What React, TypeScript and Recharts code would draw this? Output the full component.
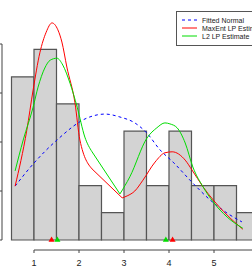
import React from 'react';
import {
    ComposedChart,
    Line,
    Scatter,
    XAxis,
    YAxis,
    ZAxis,
    ReferenceArea,
    ReferenceLine
} from 'recharts';

// histogram: bins of width 0.5, heights as density
const binStarts = [0.5, 1.0, 1.5, 2.0, 2.5, 3.0, 3.5, 4.0, 4.5, 5.0, 5.5];
const binDensity = [0.333, 0.389, 0.278, 0.111, 0.056, 0.222, 0.111, 0.222, 0.111, 0.111, 0.056];
const BIN_WIDTH = 0.5;

// fitted normal (dashed blue)
const normalX = [0.58, 0.98, 1.51, 2.18, 2.58, 2.91, 3.24, 3.51, 3.8, 4.09, 4.51, 4.91, 5.29, 5.62];
const normalY = [0.110, 0.155, 0.204, 0.249, 0.257, 0.251, 0.239, 0.218, 0.184, 0.159, 0.118, 0.082, 0.055, 0.037];

// MaxEnt LP estimate (red): left hump, straight drop, right hump
const maxentLeftX = [0.58, 0.84, 0.98, 1.13, 1.27, 1.4, 1.53, 1.62, 1.73, 1.91, 2.02, 2.29];
const maxentLeftY = [0.110, 0.224, 0.306, 0.382, 0.424, 0.443, 0.429, 0.404, 0.353, 0.280, 0.204, 0.145];
const maxentMidX = [2.29, 2.96];
const maxentMidY = [0.145, 0.086];
const maxentRightX = [2.96, 3.07, 3.24, 3.42, 3.69, 3.91, 4.07, 4.36, 4.51, 4.76, 4.98, 5.29, 5.64];
const maxentRightY = [0.086, 0.090, 0.100, 0.122, 0.159, 0.178, 0.180, 0.163, 0.143, 0.108, 0.082, 0.051, 0.022];

// L2 LP estimate (green): left hump, straight drop, right hump
const l2LeftX = [0.58, 0.76, 0.98, 1.09, 1.24, 1.36, 1.51, 1.64, 1.8, 1.96, 2.13, 2.29];
const l2LeftY = [0.141, 0.204, 0.271, 0.312, 0.351, 0.367, 0.371, 0.357, 0.320, 0.271, 0.210, 0.180];
const l2MidX = [2.29, 2.91];
const l2MidY = [0.180, 0.094];
const l2RightX = [2.91, 3.13, 3.51, 3.73, 3.91, 4.02, 4.18, 4.36, 4.53, 4.76, 4.98, 5.29, 5.64];
const l2RightY = [0.094, 0.129, 0.208, 0.229, 0.239, 0.237, 0.229, 0.198, 0.149, 0.108, 0.078, 0.047, 0.024];

// mode markers on the baseline
const maxentModes = [1.39, 4.08];
const l2Modes = [1.52, 3.93];

const xTicks = [1, 2, 3, 4, 5];
const yTicks = [0, 0.1, 0.2, 0.3, 0.4];
const legendNames = ['Fitted Normal', 'MaxEnt LP Estimate', 'L2 LP Estimate'];

// visible window (the figure is cropped on the left and right)
const X_MIN = 0.2889;
const X_MAX = 5.8444;
const Y_MIN = -0.0204;
const Y_MAX = 0.4898;

const FONT = '"Liberation Sans", Arial, sans-serif';
const RED = '#ff0000';
const GREEN = '#00dd00';
const BLUE = '#0000ff';

const toPoints = (xs: number[], ys: number[]) => xs.map((x, i) => ({ x, y: ys[i] }));

const bins = binStarts.map((s, i) => ({ x1: s, x2: s + BIN_WIDTH, y: binDensity[i] }));
const normalData = toPoints(normalX, normalY);

// each curve is drawn in three pieces so the kinks at the dip stay sharp
const curvePieces = [
    { key: 'maxent-l', data: toPoints(maxentLeftX, maxentLeftY), type: 'monotone', stroke: RED },
    { key: 'maxent-m', data: toPoints(maxentMidX, maxentMidY), type: 'linear', stroke: RED },
    { key: 'maxent-r', data: toPoints(maxentRightX, maxentRightY), type: 'monotone', stroke: RED },
    { key: 'l2-l', data: toPoints(l2LeftX, l2LeftY), type: 'monotone', stroke: GREEN },
    { key: 'l2-m', data: toPoints(l2MidX, l2MidY), type: 'linear', stroke: GREEN },
    { key: 'l2-r', data: toPoints(l2RightX, l2RightY), type: 'monotone', stroke: GREEN }
];

const maxentModeData = maxentModes.map(x => ({ x, y: 0 }));
const l2ModeData = l2Modes.map(x => ({ x, y: 0 }));

const legendStyles = [
    { stroke: BLUE, dash: '3 3' },
    { stroke: RED, dash: undefined },
    { stroke: GREEN, dash: undefined }
];

export default function App() {
    return (
        <div style={{ position: 'fixed', left: 0, top: 0, width: 252, height: 279, overflow: 'hidden', background: '#fff' }}>
            <ComposedChart width={252} height={279} margin={{ top: 0, right: 0, bottom: 0, left: 0 }}>
                <XAxis
                    type="number"
                    dataKey="x"
                    domain={[X_MIN, X_MAX]}
                    allowDataOverflow
                    ticks={xTicks}
                    interval={0}
                    height={29}
                    tickSize={3}
                    tickMargin={7}
                    axisLine={false}
                    tickLine={{ stroke: '#444' }}
                    tick={{ fontSize: 9, fill: '#222', fontFamily: FONT }}
                />
                <YAxis
                    type="number"
                    dataKey="y"
                    domain={[Y_MIN, Y_MAX]}
                    allowDataOverflow
                    ticks={yTicks}
                    interval={0}
                    width={2}
                    tickSize={2}
                    axisLine={false}
                    tickLine={{ stroke: '#444' }}
                    tick={() => <g />}
                />
                <ZAxis range={[16, 16]} />

                {bins.map(b => (
                    <ReferenceArea
                        key={b.x1}
                        x1={b.x1}
                        x2={b.x2}
                        y1={0}
                        y2={b.y}
                        fill="#d3d3d3"
                        fillOpacity={1}
                        stroke="#555"
                        strokeWidth={1.2}
                        ifOverflow="hidden"
                    />
                ))}

                {/* R style detached axes */}
                <ReferenceLine segment={[{ x: 1, y: Y_MIN }, { x: X_MAX, y: Y_MIN }]} stroke="#444" ifOverflow="visible" />
                <ReferenceLine segment={[{ x: X_MIN, y: 0 }, { x: X_MIN, y: 0.4 }]} stroke="#444" ifOverflow="visible" />

                <Line data={normalData} dataKey="y" type="monotone" stroke={BLUE} strokeWidth={1} strokeDasharray="3 3" dot={false} isAnimationActive={false} />
                {curvePieces.map(p => (
                    <Line
                        key={p.key}
                        data={p.data}
                        dataKey="y"
                        type={p.type as any}
                        stroke={p.stroke}
                        strokeWidth={1}
                        dot={false}
                        isAnimationActive={false}
                    />
                ))}

                <Scatter data={maxentModeData} dataKey="y" fill={RED} shape="triangle" isAnimationActive={false} />
                <Scatter data={l2ModeData} dataKey="y" fill={GREEN} shape="triangle" isAnimationActive={false} />
            </ComposedChart>

            <div
                style={{
                    position: 'absolute',
                    left: 176,
                    top: 11,
                    width: 110,
                    border: '1px solid #555',
                    background: '#fff',
                    padding: '4px 0 5px 4px',
                    fontFamily: FONT,
                    fontSize: 7,
                    color: '#222'
                }}
            >
                {legendNames.map((name, i) => (
                    <div key={name} style={{ display: 'flex', alignItems: 'center', height: 8, whiteSpace: 'nowrap' }}>
                        <svg width={21} height={8} style={{ flex: 'none' }}>
                            <line x1={1} y1={4} x2={16} y2={4} stroke={legendStyles[i].stroke} strokeWidth={1} strokeDasharray={legendStyles[i].dash} />
                        </svg>
                        <span>{name}</span>
                    </div>
                ))}
            </div>
        </div>
    );
}
